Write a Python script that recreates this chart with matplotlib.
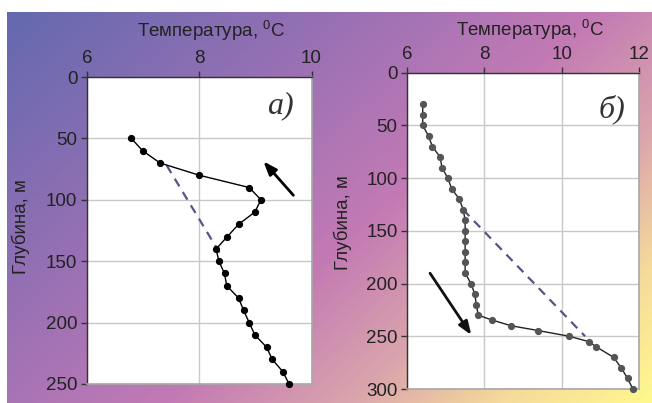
import numpy as np
import matplotlib
matplotlib.use("Agg")
import matplotlib.pyplot as plt

plt.rcParams["font.family"] = ["Liberation Sans", "DejaVu Sans"]
plt.rcParams["mathtext.fontset"] = "custom"
plt.rcParams["mathtext.rm"] = "Liberation Sans"

# panel a) - temperature profile
depth_a = [50, 60, 70, 80, 90, 100, 110, 120, 130, 140, 150, 160, 170,
           180, 190, 200, 210, 220, 230, 240, 250]
temp_a = [6.79, 6.99, 7.30, 8.00, 8.89, 9.10, 8.99, 8.70, 8.50, 8.30, 8.35,
          8.45, 8.49, 8.70, 8.79, 8.89, 8.99, 9.20, 9.30, 9.49, 9.60]
dash_a_temp = [7.42, 8.36]
dash_a_depth = [72, 143]
arrow_a = ((9.71, 98), (9.11, 67))

# panel б)
depth_b = [30, 40, 50, 60, 70, 80, 90, 100, 110, 120, 130, 140, 150, 160,
           170, 180, 190, 200, 210, 220, 230, 234.5, 240, 244.6, 250, 255,
           260, 270, 280, 290, 300]
temp_b = [6.40, 6.40, 6.40, 6.55, 6.65, 6.85, 6.90, 7.05, 7.15, 7.35, 7.45,
          7.50, 7.50, 7.50, 7.50, 7.50, 7.50, 7.65, 7.75, 7.79, 7.84, 8.19,
          8.69, 9.40, 10.20, 10.70, 10.90, 11.35, 11.55, 11.71, 11.85]
dash_b_temp = [7.45, 10.61]
dash_b_depth = [130, 250]
arrow_b = ((6.55, 188), (7.70, 251))

W, H = 652, 403
fig = plt.figure(figsize=(W / 100, H / 100), dpi=100)

# gradient background
bg = fig.add_axes([7 / W, 0, 1 - 7 / W, 1 - 12 / H])
bg.set_axis_off()
xx, yy = np.meshgrid(np.linspace(0, 1, 300), np.linspace(0, 1, 200))
t = 0.6 * xx + 0.4 * yy
stops = [0.0, 0.3, 0.55, 0.72, 0.86, 1.0]
rgb = np.array([[100, 105, 175], [150, 112, 180], [195, 122, 180],
                [218, 165, 172], [246, 218, 155], [255, 248, 142]]) / 255
img = np.dstack([np.interp(t, stops, rgb[:, k]) for k in range(3)])
bg.imshow(img, aspect="auto", extent=[0, 1, 0, 1], origin="upper")


def setup(ax, xlim, xticks, ylim, yticks):
    ax.set_xlim(*xlim)
    ax.set_ylim(ylim[1], ylim[0])
    ax.set_xticks(xticks)
    ax.set_yticks(yticks)
    ax.xaxis.tick_top()
    ax.tick_params(labelsize=13.5, length=4, width=1, color="#333333",
                   labelcolor="#222222", pad=3)
    ax.grid(True, color="#c8c8c8", linewidth=1)
    ax.set_axisbelow(True)
    for s in ("left", "top"):
        ax.spines[s].set_color("#333333")
        ax.spines[s].set_linewidth(1)
    for s in ("right", "bottom"):
        ax.spines[s].set_color("#a8a8a8")
        ax.spines[s].set_linewidth(1.2)
    ax.set_facecolor("white")


ax1 = fig.add_axes([87 / W, 1 - 384 / H, 224.5 / W, 307 / H])
setup(ax1, (6, 10), [6, 8, 10], (0, 250), range(0, 251, 50))
ax1.plot(dash_a_temp, dash_a_depth, color="#55558a", lw=1.6, ls=(0, (4, 3)))
ax1.plot(temp_a, depth_a, color="black", lw=1, marker="o", ms=4.2,
         clip_on=False, zorder=4)
ax1.annotate("", xy=arrow_a[1], xytext=arrow_a[0],
             arrowprops=dict(arrowstyle="-|>,head_length=0.8,head_width=0.3",
                             color="black", lw=2))
ax1.text(0.86, 0.905, "a)", transform=ax1.transAxes, fontsize=23,
         family="Liberation Serif", style="italic", ha="center", va="center",
         color="#333333")

ax2 = fig.add_axes([407.3 / W, 1 - 389 / H, 231.4 / W, 316.3 / H])
setup(ax2, (6, 12), [6, 8, 10, 12], (0, 300), range(0, 301, 50))
ax2.plot(dash_b_temp, dash_b_depth, color="#55558a", lw=1.6, ls=(0, (4, 3)))
ax2.plot(temp_b, depth_b, color="#222222", lw=1, marker="o", ms=4.2,
         mfc="#555555", mec="#555555", clip_on=False, zorder=4)
ax2.annotate("", xy=arrow_b[1], xytext=arrow_b[0],
             arrowprops=dict(arrowstyle="-|>,head_length=0.8,head_width=0.3",
                             color="#111111", lw=2))
ax2.text(0.885, 0.885, "б)", transform=ax2.transAxes, fontsize=23,
         family="Liberation Serif", style="italic", ha="center", va="center",
         color="#333333")

title = "Температура, $^0$C"
fig.text(211 / W, 1 - 31 / H, title, fontsize=13.5, ha="center",
         va="center", color="#222222")
fig.text(530 / W, 1 - 30 / H, title, fontsize=13.5, ha="center",
         va="center", color="#222222")
fig.text(21 / W, 1 - 227 / H, "Глубина, м", fontsize=13.5, rotation=90,
         ha="center", va="center", color="#222222")
fig.text(343 / W, 1 - 223 / H, "Глубина, м", fontsize=13.5, rotation=90,
         ha="center", va="center", color="#222222")

fig.savefig("out.png", dpi=100)
